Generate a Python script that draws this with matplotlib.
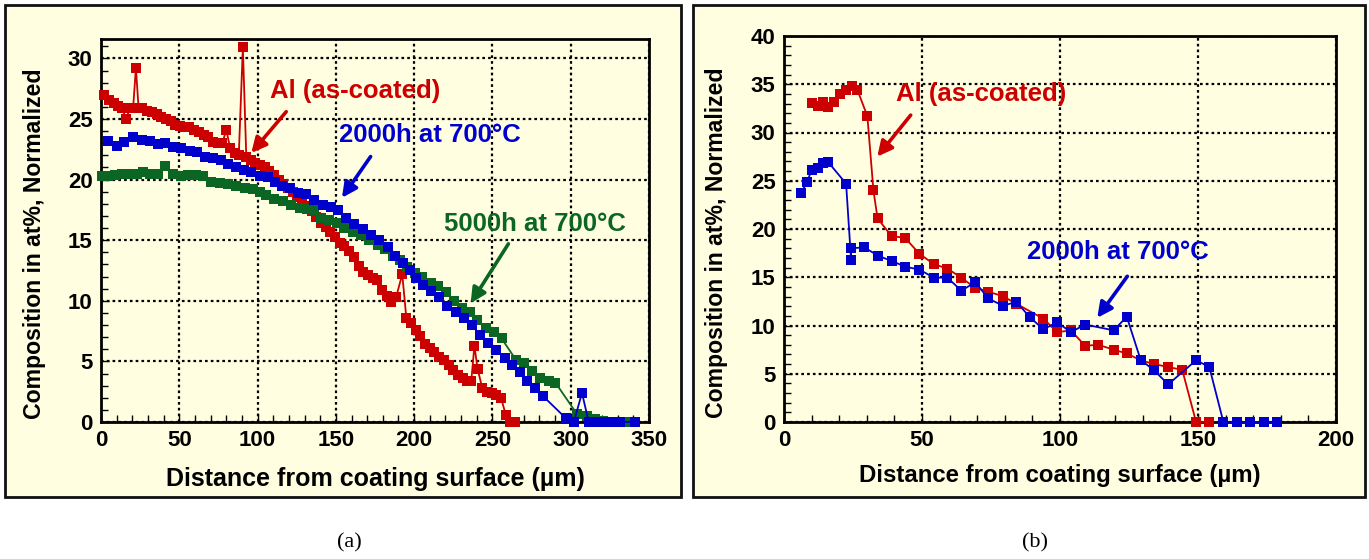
import matplotlib
matplotlib.use("Agg")
import matplotlib.pyplot as plt
from matplotlib.patches import Rectangle
from matplotlib.ticker import MultipleLocator

plt.rcParams['font.family'] = ['Liberation Sans', 'DejaVu Sans']

# ---------------- data: panel (a) ----------------
a_red_x = [2.0, 5.0, 8.0, 11.0, 13.5, 16.0, 18.5, 20.5, 22.3, 24.0, 26.5, 29.5, 32.5, 35.5,
           38.5, 41.5, 44.5, 47.5, 50.5, 53.5, 56.5, 59.5, 62.5, 65.5, 68.5, 71.5, 74.5, 77.5,
           80.0, 82.5, 85.5, 88.0, 90.6, 92.8, 95.5, 98.5, 101.5, 104.5, 107.5, 110.5, 113.5,
           116.5, 119.5, 122.5, 125.5, 128.5, 131.5, 134.5, 137.5, 140.5, 143.5, 146.5, 149.5,
           152.5, 155.5, 158.5, 161.5, 164.5, 167.5, 170.5, 173.5, 176.5, 179.5, 182.5, 185.5,
           188.5, 192.4, 195.0, 198.0, 201.0, 204.0, 207.0, 210.0, 213.0, 216.0, 219.0, 222.0,
           225.0, 228.0, 231.0, 234.0, 236.5, 238.5, 240.5, 243.5, 246.5, 249.5, 252.5, 255.5,
           258.5, 261.5, 264.5]
a_red_y = [27.0, 26.6, 26.3, 26.1, 25.9, 25.0, 25.9, 25.9, 29.2, 25.9, 25.9, 25.7, 25.6, 25.4,
           25.2, 25.0, 24.8, 24.5, 24.4, 24.3, 24.3, 24.1, 23.9, 23.7, 23.5, 23.1, 23.0, 23.0,
           24.1, 22.6, 22.2, 22.0, 30.9, 21.9, 21.6, 21.4, 21.2, 21.0, 20.7, 20.4, 20.0,
           19.6, 19.3, 19.0, 18.6, 18.3, 17.8, 17.4, 16.9, 16.4, 16.1, 15.7, 15.3,
           14.8, 14.5, 14.1, 13.6, 12.9, 12.4, 12.1, 11.9, 11.7, 10.9, 10.4, 9.9,
           10.3, 12.2, 8.6, 8.2, 7.6, 7.1, 6.4, 6.1, 5.8, 5.4, 5.1, 4.7,
           4.3, 3.9, 3.6, 3.4, 3.4, 6.3, 4.4, 2.8, 2.5, 2.4, 2.2, 2.0,
           0.6, 0.0, 0.0]

a_blue_x = [4.6, 10.0, 14.9, 20.6, 25.9, 31.2, 36.5, 40.8, 46.0, 51.4, 56.7, 61.0, 66.2, 71.5,
            76.4, 81.1, 86.4, 91.3, 96.0, 101.3, 106.6, 111.0, 115.5, 120.4, 125.7, 131.0,
            136.3, 141.6, 147.0, 151.2, 156.5, 161.8, 167.1, 172.4, 177.7, 183.0, 188.0,
            193.0, 197.5, 201.5, 205.8, 210.6, 215.9, 221.2, 226.6, 231.9, 236.7, 242.0,
            247.3, 252.4, 258.0, 262.6, 267.3, 272.2, 277.5, 282.2, 297.0, 302.0, 307.2,
            311.5, 315.7, 322.1, 326.3, 331.6, 341.1]
a_blue_y = [23.2, 22.75, 23.1, 23.5, 23.3, 23.2, 22.9, 23.0, 22.7, 22.6, 22.4, 22.25, 21.9, 21.8,
            21.6, 21.3, 21.05, 20.8, 20.6, 20.3, 20.2, 19.8, 19.5, 19.3, 18.9, 18.8,
            18.35, 17.9, 17.7, 17.5, 16.8, 16.3, 15.9, 15.45, 15.0, 14.4, 13.7,
            13.1, 12.5, 11.9, 11.3, 10.8, 10.3, 9.6, 9.1, 8.6, 8.0, 7.2,
            6.55, 5.95, 5.26, 4.7, 4.1, 3.4, 2.8, 2.15, 0.3, 0.0, 2.4,
            0.0, 0.0, 0.0, 0.0, 0.0, 0.0]

a_green_x = [0.4, 4.7, 9.0, 13.2, 17.4, 22.7, 27.0, 31.2, 36.5, 40.8, 46.0, 51.4, 55.6, 60.9,
             65.2, 70.5, 75.8, 81.1, 86.4, 91.7, 97.0, 101.3, 105.5, 110.8, 116.1, 121.5,
             126.8, 131.4, 136.3, 140.5, 145.9, 150.5, 155.4, 160.7, 166.1, 171.3, 176.6,
             181.5, 186.2, 190.9, 195.7, 200.6, 205.3, 210.6, 215.5, 220.2, 225.5, 230.8,
             235.5, 240.3, 245.6, 250.9, 255.8, 265.2, 270.1, 275.4, 280.7, 286.0, 290.2,
             304.0, 310.4, 315.7, 320.4, 326.3, 331.0, 335.9]
a_green_y = [20.3, 20.3, 20.4, 20.5, 20.5, 20.5, 20.6, 20.5, 20.5, 21.1, 20.5, 20.3, 20.4, 20.35,
             20.3, 19.8, 19.7, 19.6, 19.45, 19.3, 19.2, 19.0, 18.75, 18.4, 18.2, 17.9,
             17.65, 17.6, 17.5, 16.8, 16.7, 16.4, 16.0, 15.65, 15.4, 15.0, 14.6,
             14.3, 13.7, 13.4, 12.8, 12.3, 12.0, 11.5, 11.25, 10.7, 9.95, 9.4,
             9.1, 8.4, 7.75, 7.4, 6.9, 5.1, 4.85, 4.2, 3.6, 3.4, 3.25,
             0.66, 0.5, 0.22, 0.1, 0.03, 0.0, 0.0]

# ---------------- data: panel (b) ----------------
b_red_x = [10.0, 12.4, 14.2, 16.1, 18.1, 20.3, 22.5, 24.5, 26.6, 30.2, 32.4, 33.9, 39.0, 43.8,
           49.0, 54.3, 59.2, 64.2, 69.3, 74.0, 79.2, 84.2, 94.0, 99.0, 103.9, 109.1, 113.9,
           119.4, 124.2, 129.2, 134.1, 139.2, 144.3, 149.3, 154.1]
b_red_y = [33.1, 32.7, 33.2, 32.6, 33.2, 34.0, 34.45, 34.8, 34.4, 31.7, 24.0, 21.1, 19.25, 19.1,
           17.45, 16.35, 15.9, 14.96, 13.9, 13.5, 13.05, 12.25, 10.7, 9.3, 9.5, 7.9, 8.0,
           7.5, 7.1, 6.4, 6.0, 5.7, 5.4, 0.0, 0.0]

b_blue_x = [6.2, 8.4, 10.0, 12.4, 14.2, 16.1, 22.5, 24.3, 24.3, 29.1, 34.2, 39.0, 43.8, 49.0,
            54.3, 59.2, 64.3, 69.3, 74.0, 79.3, 84.2, 89.1, 94.0, 99.0, 103.9, 109.1, 119.4,
            124.2, 129.2, 134.1, 139.2, 149.3, 154.1, 159.2, 164.0, 168.8, 173.9, 178.8]
b_blue_y = [23.7, 24.9, 26.1, 26.3, 26.8, 26.9, 24.7, 16.8, 18.0, 18.1, 17.2, 16.7, 16.1, 15.8,
            14.96, 14.96, 13.6, 14.5, 12.8, 12.05, 12.45, 10.85, 9.6, 10.35, 9.3, 10.1, 9.5,
            10.9, 6.45, 5.35, 3.9, 6.4, 5.7, 0.0, 0.0, 0.0, 0.0, 0.0]

x_label = "Distance from coating surface (\u00b5m)"
y_label = "Composition in at%, Normalized"
ann_al = "Al (as-coated)"
ann_2000 = "2000h at 700\u00b0C"
ann_5000 = "5000h at 700\u00b0C"

RED = '#CC0000'
BLUE = '#0000CC'
GREEN = '#0B6623'
CREAM = '#FFFEE0'

W, H = 1369, 559
fig = plt.figure(figsize=(W / 100, H / 100), dpi=100)
fig.patch.set_facecolor('white')


def px_rect(x0, y0, x1, y1):
    return Rectangle((x0 / W, 1 - y1 / H), (x1 - x0) / W, (y1 - y0) / H,
                     transform=fig.transFigure, facecolor=CREAM, edgecolor='#111111',
                     linewidth=2.0, zorder=-5)


fig.patches.append(px_rect(5, 5, 681, 497))
fig.patches.append(px_rect(693, 5, 1365, 497))


def px_axes(x0, y0, x1, y1):
    return fig.add_axes([x0 / W, 1 - y1 / H, (x1 - x0) / W, (y1 - y0) / H])


axA = px_axes(101, 39, 649, 422)
axB = px_axes(784, 36, 1336, 422)


def style(ax, xmax, ymax, xmaj, ymaj, xmin_step, ymin_step, ylab_x, ylab_y, xlab_y, xlab_size):
    ax.set_facecolor(CREAM)
    ax.set_xlim(0, xmax)
    ax.set_ylim(0, ymax)
    ax.xaxis.set_major_locator(MultipleLocator(xmaj))
    ax.yaxis.set_major_locator(MultipleLocator(ymaj))
    ax.xaxis.set_minor_locator(MultipleLocator(xmin_step))
    ax.yaxis.set_minor_locator(MultipleLocator(ymin_step))
    ax.grid(True, which='major', color='black', linestyle=(0, (1.2, 1.4)), linewidth=1.6, zorder=1)
    ax.set_axisbelow(True)
    for s in ax.spines.values():
        s.set_linewidth(2.0)
        s.set_color('black')
    ax.tick_params(which='both', direction='in', top=False, right=False, width=1.0)
    ax.tick_params(which='major', length=6, pad=6)
    ax.tick_params(which='minor', length=5)
    for lab in ax.get_xticklabels() + ax.get_yticklabels():
        lab.set_fontsize(16)
        lab.set_fontweight('bold')
    ax.set_xlabel(x_label, fontsize=xlab_size, fontweight='bold')
    ax.set_ylabel(y_label, fontsize=16.6, fontweight='bold')
    ax.yaxis.set_label_coords(ylab_x, ylab_y)
    ax.xaxis.set_label_coords(0.5, xlab_y)


style(axA, 350, 31.6, 50, 5, 10, 1, -0.101, 0.465, -0.118, 18)
style(axB, 200, 40, 50, 5, 10, 1, -0.101, 0.465, -0.108, 17.3)

ms_a = 6.5
axA.plot(a_red_x, a_red_y, color=RED, lw=1.3, marker='s', ms=ms_a, mew=0, zorder=3, clip_on=False)
axA.plot(a_green_x, a_green_y, color=GREEN, lw=1.3, marker='s', ms=ms_a, mew=0, zorder=4, clip_on=False)
axA.plot(a_blue_x, a_blue_y, color=BLUE, lw=1.3, marker='s', ms=ms_a, mew=0, zorder=5, clip_on=False)

ms_b = 7.2
axB.plot(b_red_x, b_red_y, color=RED, lw=1.3, marker='s', ms=ms_b, mew=0, zorder=3, clip_on=False)
axB.plot(b_blue_x, b_blue_y, color=BLUE, lw=1.3, marker='s', ms=ms_b, mew=0, zorder=4, clip_on=False)

AFONT = dict(fontsize=18.5, fontweight='bold', va='center', ha='left', zorder=6)


def arrow(ax, start, tip, color):
    ax.annotate('', xy=tip, xytext=start,
                arrowprops=dict(arrowstyle='-|>,head_length=0.9,head_width=0.45',
                                color=color, lw=2.6, shrinkA=0, shrinkB=0), zorder=6)


axA.text(108.1, 27.3, ann_al, color=RED, **AFONT)
arrow(axA, (118.3, 25.6), (96.0, 22.2), RED)
axA.text(152.2, 23.7, ann_2000, color=BLUE, **AFONT)
arrow(axA, (172.2, 21.9), (153.9, 18.5), BLUE)
axA.text(219.1, 16.3, ann_5000, color=GREEN, **AFONT)
arrow(axA, (260.2, 14.7), (236.1, 9.8), GREEN)

axB.text(40.6, 34.0, ann_al, color=RED, **AFONT)
arrow(axB, (45.9, 31.8), (33.8, 27.5), RED)
axB.text(88.2, 17.6, ann_2000, color=BLUE, **AFONT)
arrow(axB, (124.4, 15.1), (113.5, 10.8), BLUE)

fig.text(349 / W, 1 - 543 / H, "(a)", fontsize=16, family=['Liberation Serif', 'DejaVu Serif'],
         ha='center', va='center')
fig.text(1035 / W, 1 - 543 / H, "(b)", fontsize=16, family=['Liberation Serif', 'DejaVu Serif'],
         ha='center', va='center')

fig.savefig('out.png', dpi=100, facecolor='white')
